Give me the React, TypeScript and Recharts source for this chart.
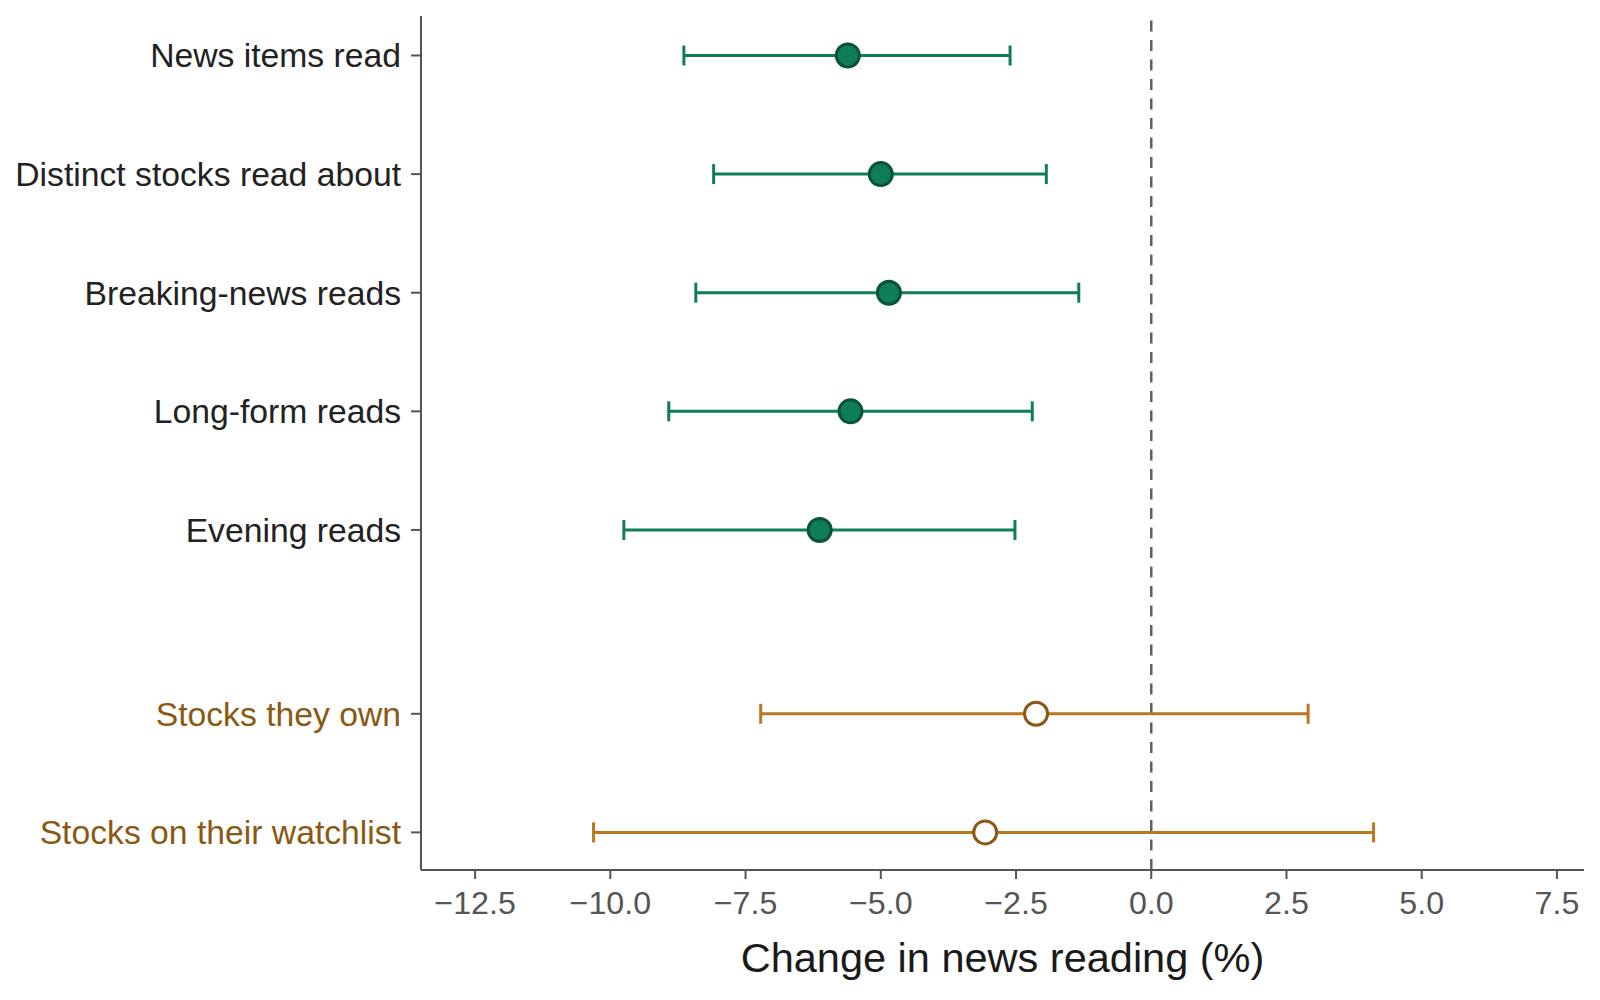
import React from 'react'
import { ScatterChart, Scatter, XAxis, YAxis, ErrorBar, ReferenceLine } from 'recharts'

// outcomes, top to bottom
const labels = [
  'News items read',
  'Distinct stocks read about',
  'Breaking-news reads',
  'Long-form reads',
  'Evening reads',
  'Stocks they own',
  'Stocks on their watchlist',
]
const rowPos = [0, 1, 2, 3, 4, 5.55, 6.55]
const estimate = [-5.61, -5.0, -4.85, -5.56, -6.13, -2.13, -3.07]
const lower = [-8.64, -8.09, -8.42, -8.92, -9.75, -7.22, -10.31]
const upper = [-2.61, -1.94, -1.34, -2.2, -2.52, 2.9, 4.11]
const group = ['reading', 'reading', 'reading', 'reading', 'reading', 'holding', 'holding']

const xTicks = [-12.5, -10, -7.5, -5, -2.5, 0, 2.5, 5, 7.5]

const GREEN = '#0f7d59'
const GREEN_DARK = '#0b5238'
const BROWN = '#b8781f'
const BROWN_DARK = '#8a5812'
const FONT = '"Liberation Sans", Arial, Helvetica, sans-serif'

const rows = labels.map((label, i) => ({
  label,
  pos: rowPos[i],
  est: estimate[i],
  err: [estimate[i] - lower[i], upper[i] - estimate[i]],
  group: group[i],
}))

const readingRows = rows.filter(r => r.group === 'reading')
const holdingRows = rows.filter(r => r.group === 'holding')

const fmt = (v: number) => (v < 0 ? '\u2212' : '') + Math.abs(v).toFixed(1)

const YTick = (props: any) => {
  const { x, y, payload } = props
  const idx = rowPos.indexOf(payload.value)
  const isHolding = group[idx] === 'holding'
  return (
    <text x={x} y={y} dy="0.355em" textAnchor="end" fontSize={33.7} fontFamily={FONT} fill={isHolding ? BROWN_DARK : '#222222'}>
      {labels[idx]}
    </text>
  )
}

const filledDot = (p: any) => (
  <circle cx={p.cx} cy={p.cy} r={11.5} fill={GREEN} stroke={GREEN_DARK} strokeWidth={3} />
)
const hollowDot = (p: any) => (
  <circle cx={p.cx} cy={p.cy} r={11.5} fill="#ffffff" stroke={BROWN_DARK} strokeWidth={3} />
)

export default function App() {
  return (
    <div style={{ position: 'absolute', left: 0, top: 0, background: '#fff', fontFamily: FONT }}>
      <ScatterChart width={1600} height={1000} margin={{ top: 16, right: 16, bottom: 0, left: 0 }}>
        <XAxis
          type="number"
          dataKey="est"
          domain={[-13.5, 8]}
          allowDataOverflow
          ticks={xTicks}
          interval={0}
          tickFormatter={fmt}
          height={130}
          tickSize={9}
          tickMargin={12}
          axisLine={{ stroke: '#555555', strokeWidth: 2 }}
          tickLine={{ stroke: '#555555', strokeWidth: 2 }}
          tick={{ fill: '#555555', fontSize: 32.2, fontFamily: FONT }}
          label={{
            value: 'Change in news reading (%)',
            position: 'insideBottom',
            offset: 28,
            fill: '#1a1a1a',
            fontSize: 41.5,
            fontFamily: FONT,
          }}
        />
        <YAxis
          type="number"
          dataKey="pos"
          domain={[-0.333, 6.867]}
          allowDataOverflow
          reversed
          ticks={rowPos}
          interval={0}
          width={421}
          tickSize={10}
          tickMargin={10}
          axisLine={{ stroke: '#555555', strokeWidth: 2 }}
          tickLine={{ stroke: '#555555', strokeWidth: 2 }}
          tick={<YTick />}
        />
        <ReferenceLine x={0} stroke="#606060" strokeWidth={2.5} strokeDasharray="11 8.5" />
        <Scatter data={readingRows} isAnimationActive={false} shape={filledDot}>
          <ErrorBar dataKey="err" direction="x" width={10} stroke={GREEN} strokeWidth={3} />
        </Scatter>
        <Scatter data={holdingRows} isAnimationActive={false} shape={hollowDot}>
          <ErrorBar dataKey="err" direction="x" width={10} stroke={BROWN} strokeWidth={3} />
        </Scatter>
      </ScatterChart>
    </div>
  )
}
